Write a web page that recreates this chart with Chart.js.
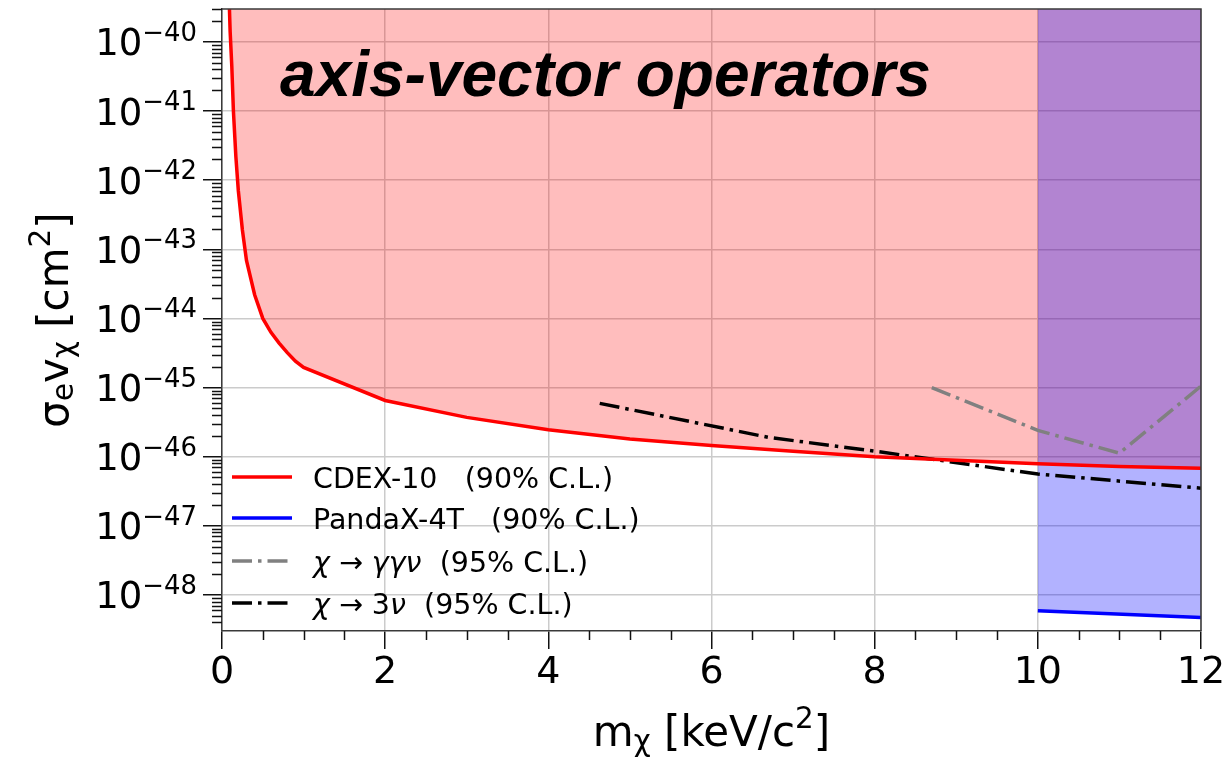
<!DOCTYPE html>
<html>
<head>
<meta charset="utf-8">
<script src="https://cdn.jsdelivr.net/npm/chart.js@4/dist/chart.umd.min.js"></script>
<style>
body { margin: 0; background: #fff; }
#wrap { width: 1229px; height: 760px; position: relative; }
</style>
</head>
<body>
<div id="wrap"><canvas id="myChart"></canvas></div>
<script>
// values (mass in keV/c^2, cross section in cm^2)
const cdexMass = [0.08, 0.1, 0.12, 0.14, 0.17, 0.2, 0.25, 0.3, 0.4, 0.5, 0.6, 0.7, 0.8, 0.9, 1, 2, 3, 4, 5, 6, 7, 8, 9, 10, 11, 12]
const cdexLimit = [8e-40, 1.4e-40, 4.5e-41, 1.0e-41, 2.2e-42, 7.1e-43, 1.9e-43, 6.9e-44, 2.2e-44, 1.0e-44, 6.3e-45, 4.4e-45, 3.2e-45, 2.4e-45, 1.95e-45,
    6.5e-46, 3.7e-46, 2.45e-46, 1.8e-46, 1.45e-46, 1.2e-46, 1.0e-46, 8.9e-47, 7.9e-47, 7.2e-47, 6.8e-47]

const pandaMass = [10, 12]
const pandaLimit = [5.9e-49, 4.7e-49]

const ggnMass = [8.7, 10, 11, 12]
const ggnLimit = [1.0e-45, 2.4e-46, 1.12e-46, 1.05e-45]

const nu3Mass = [4.63, 6.7, 8, 10, 12]
const nu3Limit = [5.9e-46, 1.9e-46, 1.2e-46, 5.6e-47, 3.5e-47]

const seriesNames = ['CDEX-10   (90% C.L.)', 'PandaX-4T   (90% C.L.)', 'χ → γγν  (95% C.L.)', 'χ → 3ν  (95% C.L.)']
const yDecades = [-48, -47, -46, -45, -44, -43, -42, -41, -40]
const xMajor = [0, 2, 4, 6, 8, 10, 12]

const FONT = '"DejaVu Sans", "Noto Sans", sans-serif'

function pts(xs, ys) {
    return xs.map((x, i) => ({ x: x, y: ys[i] }))
}

// draw a run of text pieces: [text, scale, shift(em, up), italic]
function richText(c, parts, x, y, size, align) {
    let total = 0
    parts.forEach(p => {
        c.font = (p[3] ? 'italic ' : '') + (size * p[1]).toFixed(1) + 'px ' + FONT
        p.w = c.measureText(p[0]).width
        total += p.w
    })
    let cx = x
    if (align === 'center') cx = x - total / 2
    if (align === 'right') cx = x - total
    c.textAlign = 'left'
    c.textBaseline = 'alphabetic'
    parts.forEach(p => {
        c.font = (p[3] ? 'italic ' : '') + (size * p[1]).toFixed(1) + 'px ' + FONT
        c.fillText(p[0], cx, y - p[2] * size)
        cx += p.w
    })
}

const decor = {
    id: 'decor',
    afterDraw(chart) {
        const c = chart.ctx
        const a = chart.chartArea
        const xs = chart.scales.x
        const ys = chart.scales.y
        c.save()

        // top and right spines
        c.strokeStyle = '#3a3a3a'
        c.lineWidth = 1.5
        c.beginPath()
        c.moveTo(a.left, a.top); c.lineTo(a.right, a.top); c.lineTo(a.right, a.bottom)
        c.stroke()

        // minor ticks
        c.strokeStyle = '#111'
        c.lineWidth = 1.5
        c.beginPath()
        for (let n = -49; n <= -40; n++) {
            for (let m = 2; m <= 9; m++) {
                const v = m * Math.pow(10, n)
                if (v < ys.min || v > ys.max) continue
                const py = Math.round(ys.getPixelForValue(v)) + 0.5
                c.moveTo(a.left - 10, py); c.lineTo(a.left, py)
            }
        }
        for (let v = 0.5; v < 12; v += 0.5) {
            if (v % 2 === 0) continue
            const px = Math.round(xs.getPixelForValue(v)) + 0.5
            c.moveTo(px, a.bottom); c.lineTo(px, a.bottom + 9)
        }
        c.stroke()

        // y tick labels 10^n
        c.fillStyle = '#000'
        yDecades.forEach(n => {
            const py = ys.getPixelForValue(Math.pow(10, n))
            richText(c, [['10', 1, 0], ['\u2212' + Math.abs(n), 0.7, 0.39]], 197, py + 13.5, 37, 'right')
        })

        // title inside the plot
        c.font = 'italic bold 64px "Liberation Sans", Arial, sans-serif'
        c.textAlign = 'left'
        c.textBaseline = 'alphabetic'
        c.fillText('axis-vector operators', 280, 96)

        // axis titles
        richText(c, [['m', 1, 0], ['χ', 0.7, -0.12], [' [keV/c', 1, 0], ['2', 0.7, 0.43], [']', 1, 0]],
            (a.left + a.right) / 2, 746, 42, 'center')
        c.save()
        c.translate(68, (a.top + a.bottom) / 2)
        c.rotate(-Math.PI / 2)
        richText(c, [['σ', 1, 0], ['e', 0.7, -0.12], ['v', 1, 0], ['χ', 0.7, -0.12], [' [cm', 1, 0], ['2', 0.7, 0.43], [']', 1, 0]],
            0, 0, 42, 'center')
        c.restore()

        // legend (no frame)
        const rows = [
            [['CDEX-10   (90% C.L.)', 1, 0]],
            [['PandaX-4T   (90% C.L.)', 1, 0]],
            [['χ', 1, 0, true], [' → ', 1, 0], ['γγν', 1, 0, true], ['  (95% C.L.)', 1, 0]],
            [['χ', 1, 0, true], [' → 3', 1, 0], ['ν', 1, 0, true], ['  (95% C.L.)', 1, 0]]
        ]
        const rowY = [477, 518, 561, 603]
        rows.forEach((parts, i) => {
            const ds = chart.data.datasets[i]
            c.strokeStyle = ds.borderColor
            c.lineWidth = ds.borderWidth
            c.setLineDash(ds.borderDash || [])
            c.beginPath()
            c.moveTo(232, rowY[i]); c.lineTo(292, rowY[i])
            c.stroke()
            c.setLineDash([])
            c.fillStyle = '#000'
            richText(c, parts, 313, rowY[i] + 10.5, 28.5, 'left')
        })
        c.restore()
    }
}

const ctx = document.getElementById('myChart').getContext('2d')
const myChart = new Chart(ctx, {
    type: 'line',
    data: {
        datasets: [{
            label: seriesNames[0],
            data: pts(cdexMass, cdexLimit),
            borderColor: '#ff0000',
            backgroundColor: 'rgba(255,0,0,0.26)',
            borderWidth: 3.5,
            fill: 'end',
            pointRadius: 0,
            tension: 0,
            order: 1
        }, {
            label: seriesNames[1],
            data: pts(pandaMass, pandaLimit),
            borderColor: '#0000ff',
            backgroundColor: 'rgba(0,0,255,0.3)',
            borderWidth: 3.5,
            fill: 'end',
            pointRadius: 0,
            tension: 0,
            order: 0
        }, {
            label: seriesNames[2],
            data: pts(ggnMass, ggnLimit),
            borderColor: '#808080',
            borderWidth: 3.5,
            borderDash: [20, 6, 3.5, 6],
            fill: false,
            pointRadius: 0,
            tension: 0,
            order: 1
        }, {
            label: seriesNames[3],
            data: pts(nu3Mass, nu3Limit),
            borderColor: '#000000',
            borderWidth: 3.5,
            borderDash: [20, 6, 3.5, 6],
            fill: false,
            pointRadius: 0,
            tension: 0,
            order: 1
        }]
    },
    options: {
        responsive: true,
        maintainAspectRatio: false,
        animation: false,
        layout: { padding: { top: 9, right: 28, left: 0, bottom: 0 } },
        plugins: {
            legend: { display: false },
            tooltip: { enabled: false },
            filler: { drawTime: 'beforeDatasetsDraw' }
        },
        scales: {
            x: {
                type: 'linear',
                min: 0,
                max: 12,
                afterBuildTicks: s => { s.ticks = xMajor.map(v => ({ value: v })) },
                afterFit: s => { s.height = 129; s.paddingLeft = 0; s.paddingRight = 0 },
                grid: { color: '#cbcbcb', lineWidth: 1.5, tickColor: '#111', tickLength: 18, tickWidth: 1.5 },
                border: { color: '#3a3a3a', width: 1.5 },
                ticks: { color: '#000', font: { family: FONT, size: 38 }, padding: 1, maxRotation: 0 }
            },
            y: {
                type: 'logarithmic',
                min: 3e-49,
                max: 3e-40,
                afterBuildTicks: s => { s.ticks = yDecades.map(n => ({ value: Math.pow(10, n) })) },
                afterFit: s => { s.width = 222; s.paddingTop = 0; s.paddingBottom = 0 },
                grid: { color: '#cbcbcb', lineWidth: 1.5, tickColor: '#111', tickLength: 19, tickWidth: 1.5 },
                border: { color: '#3a3a3a', width: 1.5 },
                ticks: { display: false }
            }
        }
    },
    plugins: [decor]
})
</script>
</body>
</html>
